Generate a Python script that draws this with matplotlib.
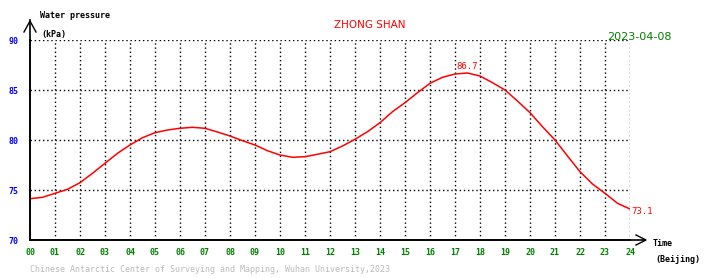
import numpy as np
import matplotlib
matplotlib.use("Agg")
import matplotlib.pyplot as plt

# half-hourly readings
hours = np.arange(0, 24.5, 0.5)
pressure = [74.13, 74.27, 74.67, 75.07, 75.73, 76.67, 77.67, 78.67, 79.5, 80.23,
            80.73, 81.0, 81.17, 81.27, 81.17, 80.8, 80.4, 79.93, 79.5, 78.93,
            78.5, 78.27, 78.33, 78.57, 78.83, 79.4, 80.07, 80.83, 81.73, 82.83,
            83.73, 84.73, 85.67, 86.27, 86.6, 86.7, 86.4, 85.73, 85.0, 83.9,
            82.73, 81.33, 80.0, 78.4, 76.83, 75.6, 74.67, 73.67, 73.1]
x_labels = ["%02d" % h for h in range(25)]
y_ticks = [70, 75, 80, 85, 90]

W, H = 710, 278
fig = plt.figure(figsize=(W / 100, H / 100), dpi=100)
ax = fig.add_axes([30 / W, (H - 240) / H, 600 / W, 200 / H])
ax.set_xlim(0, 24)
ax.set_ylim(70, 90)

mono = "DejaVu Sans Mono"

# dotted grid
for h in range(1, 25):
    ax.plot([h, h], [70, 90], color="black", lw=1.0, ls=(0, (1, 2)), zorder=1)
for v in y_ticks[1:]:
    ax.plot([0, 24], [v, v], color="black", lw=1.0, ls=(0, (1, 2)), zorder=1)

ax.plot(hours, pressure, color="red", lw=1.1, zorder=3)

# max / last value labels
p = np.array(pressure)
imax = int(np.argmax(p))
ax.text(hours[imax], p[imax] + 0.15, "%.1f" % p[imax], color="red",
        fontsize=6.5, family=mono, ha="center", va="bottom")
ax.text(hours[-1] + 0.05, p[-1] - 0.2, "%.1f" % p[-1], color="red",
        fontsize=6.5, family=mono, ha="left", va="center")

for s in ["top", "right"]:
    ax.spines[s].set_visible(False)
ax.spines["left"].set_linewidth(1.2)
ax.spines["bottom"].set_linewidth(1.2)
ax.set_xticks(range(25))
ax.set_xticklabels(x_labels, family=mono, fontsize=6, color="green",
                   fontweight="bold")
ax.set_yticks(y_ticks)
ax.set_yticklabels([str(v) for v in y_ticks], family=mono, fontsize=6,
                   color="blue", fontweight="bold")
ax.tick_params(axis="x", length=0, pad=6)
ax.tick_params(axis="y", length=0, pad=8)


def fx(px):
    return px / W


def fy(py):
    return 1 - py / H


# axis arrows
fig.add_artist(plt.Line2D([fx(30), fx(30)], [fy(240), fy(20)], color="black", lw=1.2))
fig.add_artist(plt.Line2D([fx(24), fx(30), fx(36)], [fy(32), fy(21), fy(32)],
                          color="black", lw=1.0))
fig.add_artist(plt.Line2D([fx(30), fx(645)], [fy(240), fy(240)], color="black", lw=1.2))
fig.add_artist(plt.Line2D([fx(636), fx(646), fx(636)], [fy(235), fy(240), fy(245)],
                          color="black", lw=1.0))

fig.text(fx(40), fy(16), "Water pressure", family=mono, fontsize=6,
         fontweight="bold", va="center")
fig.text(fx(41), fy(34), "(kPa)", family=mono, fontsize=6,
         fontweight="bold", va="center")
fig.text(fx(653), fy(244), "Time", family=mono, fontsize=6,
         fontweight="bold", va="center")
fig.text(fx(655), fy(260), "(Beijing)", family=mono, fontsize=6,
         fontweight="bold", va="center")
fig.text(fx(370), fy(25), "ZHONG SHAN", color="red", fontsize=7.5,
         ha="center", va="center")
fig.text(fx(672), fy(37), "2023-04-08", color="green", fontsize=8,
         ha="right", va="center")
fig.text(fx(30), fy(270),
         "Chinese Antarctic Center of Surveying and Mapping, Wuhan University,2023",
         color="#bbbbbb", family=mono, fontsize=6, va="center")

fig.savefig("out.png", dpi=100)
